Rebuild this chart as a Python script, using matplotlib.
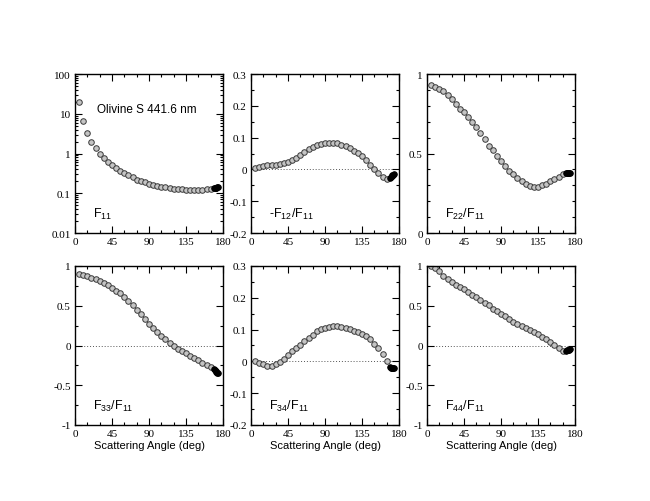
import matplotlib
matplotlib.use("Agg")
import matplotlib.pyplot as plt
from matplotlib.ticker import MultipleLocator, FixedLocator, LogLocator, NullFormatter

# scattering angles (deg) of the open symbols, 5..165 every 5
angles = [5, 10, 15, 20, 25, 30, 35, 40, 45, 50, 55, 60, 65, 70, 75, 80, 85,
          90, 95, 100, 105, 110, 115, 120, 125, 130, 135, 140, 145, 150, 155,
          160, 165]
# angles of the filled (backscatter) symbols
angles_back = [169, 170, 171, 172, 173, 174]

f11 = [20, 6.6, 3.3, 2.0, 1.4, 1.0, 0.78, 0.62, 0.51, 0.42, 0.36, 0.32, 0.28,
       0.25, 0.22, 0.20, 0.19, 0.175, 0.165, 0.155, 0.147, 0.141, 0.136, 0.131,
       0.128, 0.126, 0.124, 0.124, 0.124, 0.124, 0.124, 0.126, 0.128]
f11_back = [0.132, 0.134, 0.136, 0.138, 0.14, 0.14]

f12 = [0.003, 0.008, 0.012, 0.015, 0.015, 0.015, 0.016, 0.019, 0.023, 0.029,
       0.037, 0.046, 0.054, 0.063, 0.071, 0.077, 0.081, 0.083, 0.084, 0.084,
       0.082, 0.078, 0.073, 0.067, 0.059, 0.051, 0.041, 0.028, 0.015, 0.002,
       -0.012, -0.024, -0.031]
f12_back = [-0.027, -0.024, -0.021, -0.019, -0.017, -0.015]

f22 = [0.933, 0.916, 0.904, 0.891, 0.868, 0.84, 0.81, 0.78, 0.76, 0.728, 0.70,
       0.665, 0.63, 0.59, 0.55, 0.52, 0.483, 0.45, 0.42, 0.393, 0.368, 0.345,
       0.324, 0.308, 0.297, 0.289, 0.29, 0.30, 0.31, 0.326, 0.34, 0.355, 0.372]
f22_back = [0.378, 0.38, 0.38, 0.38, 0.38, 0.378]

f33 = [0.90, 0.89, 0.875, 0.855, 0.836, 0.81, 0.78, 0.756, 0.727, 0.69, 0.655,
       0.61, 0.563, 0.513, 0.45, 0.39, 0.33, 0.27, 0.214, 0.164, 0.118, 0.076,
       0.034, -0.008, -0.04, -0.07, -0.10, -0.126, -0.16, -0.185, -0.214,
       -0.244, -0.273]
f33_back = [-0.30, -0.31, -0.32, -0.33, -0.34, -0.345]

f34 = [0.001, -0.004, -0.009, -0.013, -0.013, -0.008, -0.001, 0.008, 0.019,
       0.032, 0.041, 0.051, 0.063, 0.075, 0.084, 0.095, 0.102, 0.106, 0.108,
       0.110, 0.110, 0.109, 0.105, 0.102, 0.096, 0.092, 0.085, 0.079, 0.069,
       0.056, 0.042, 0.023, 0.001]
f34_back = [-0.018, -0.02, -0.021, -0.021, -0.021, -0.02]

f44 = [1.0, 0.975, 0.94, 0.88, 0.836, 0.80, 0.765, 0.735, 0.71, 0.676, 0.64,
       0.605, 0.567, 0.534, 0.504, 0.462, 0.43, 0.40, 0.366, 0.336, 0.30, 0.27,
       0.24, 0.214, 0.19, 0.164, 0.139, 0.11, 0.08, 0.042, 0.008, -0.03, -0.067]
f44_back = [-0.065, -0.062, -0.058, -0.055, -0.052, -0.05]

panels = [
    (f11, f11_back, r"F$_{11}$"),
    (f12, f12_back, r"-F$_{12}$/F$_{11}$"),
    (f22, f22_back, r"F$_{22}$/F$_{11}$"),
    (f33, f33_back, r"F$_{33}$/F$_{11}$"),
    (f34, f34_back, r"F$_{34}$/F$_{11}$"),
    (f44, f44_back, r"F$_{44}$/F$_{11}$"),
]

plt.rcParams['mathtext.fontset'] = 'custom'
plt.rcParams['mathtext.rm'] = 'Liberation Sans'
plt.rcParams['mathtext.default'] = 'regular'

fig = plt.figure(figsize=(6.5, 5.02), dpi=100)

lefts = [75, 251, 427]
tops = [75, 267]
w, h = 148, 159

for k, (vals, back, label) in enumerate(panels):
    row, col = divmod(k, 3)
    ax = fig.add_axes([lefts[col] / 650, 1 - (tops[row] + h) / 502, w / 650, h / 502])

    ax.plot(angles, vals, 'o', ms=4, mfc='#c4c4c4', mec='#3a3a3a', mew=0.7)
    ax.plot(angles_back, back, 'o', ms=4, mfc='black', mec='black', mew=0.7)

    ax.set_xlim(0, 180)
    ax.xaxis.set_major_locator(MultipleLocator(45))
    ax.xaxis.set_minor_locator(MultipleLocator(15))

    if k == 0:
        ax.set_yscale('log')
        ax.set_ylim(0.01, 100)
        ax.yaxis.set_major_locator(FixedLocator([0.01, 0.1, 1, 10, 100]))
        ax.set_yticklabels(["0.01", "0.1", "1", "10", "100"])
        ax.yaxis.set_minor_locator(LogLocator(base=10, subs=[2, 3, 4, 5, 6, 7, 8, 9]))
        ax.yaxis.set_minor_formatter(NullFormatter())
        ax.text(0.15, 0.76, "Olivine S 441.6 nm", transform=ax.transAxes,
                fontsize=8.5, family='Liberation Sans')
    elif k in (1, 4):
        ax.set_ylim(-0.2, 0.3)
        ax.yaxis.set_minor_locator(MultipleLocator(0.05))
        ax.set_yticks([-0.2, -0.1, 0, 0.1, 0.2, 0.3])
        ax.set_yticklabels(["-0.2", "-0.1", "0", "0.1", "0.2", "0.3"])
    elif k == 2:
        ax.set_ylim(0, 1)
        ax.set_yticks([0, 0.5, 1])
        ax.set_yticklabels(["0", "0.5", "1"])
        ax.yaxis.set_minor_locator(MultipleLocator(0.1))
    else:
        ax.set_ylim(-1, 1)
        ax.set_yticks([-1, -0.5, 0, 0.5, 1])
        ax.set_yticklabels(["-1", "-0.5", "0", "0.5", "1"])
        ax.yaxis.set_minor_locator(MultipleLocator(0.25))

    if k != 0 and k != 2:
        ax.axhline(0, color='#555555', lw=0.7, ls=(0, (1, 2)), zorder=0)

    ax.tick_params(which='both', direction='in', top=True, right=True,
                   labelsize=8, pad=3, width=0.8)
    ax.tick_params(which='major', length=5)
    ax.tick_params(which='minor', length=2.5)
    for t in ax.get_xticklabels() + ax.get_yticklabels():
        t.set_family('Liberation Serif')
    for s in ax.spines.values():
        s.set_linewidth(1.0)

    ax.text(0.12, 0.1, label, transform=ax.transAxes, fontsize=9,
            family='Liberation Sans')

    if row == 1:
        ax.set_xlabel("Scattering Angle (deg)", fontsize=8,
                      family='Liberation Sans', labelpad=1)

fig.savefig("out.png", dpi=100)
